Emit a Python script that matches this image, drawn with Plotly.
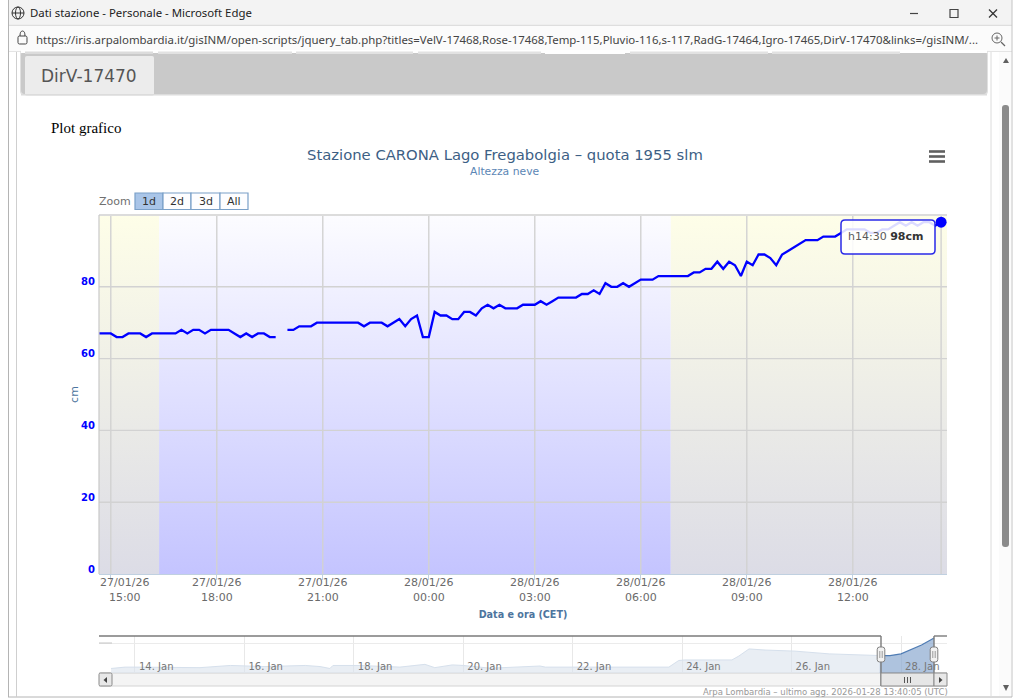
import plotly.graph_objects as go
import pandas as pd

W, H = 1024, 698

# ---------- data ----------
snow_start = "2026-01-27 14:40"
snow_cm = [
    67, 67, 67, 66, 66, 67, 67, 67, 66, 67, 67, 67, 67, 67, 68, 67, 68, 68, 67, 68,
    68, 68, 68, 67, 66, 67, 66, 67, 67, 66, 66, None, 68, 68, 69, 69, 69, 70, 70, 70,
    70, 70, 70, 70, 70, 69, 70, 70, 70, 69, 70, 71, 69, 71, 72, 66, 66, 73, 72, 72,
    71, 71, 73, 73, 72, 74, 75, 74, 75, 74, 74, 74, 75, 75, 75, 76, 75, 76, 77, 77,
    77, 77, 78, 78, 79, 78, 81, 80, 80, 81, 80, 81, 82, 82, 82, 83, 83, 83, 83, 83,
    83, 84, 84, 85, 85, 87, 85, 87, 86, 83, 87, 86, 89, 89, 88, 86, 89, 90, 91, 92,
    93, 93, 93, 94, 94, 94, 95, 96, 96, 96, 96, 95, 95, 96, 96, 97, 98, 97, 98, 97,
    98, 98, 97, 98,
]
y_ticks = [0, 20, 40, 60, 80]
x_tick_times = ["2026-01-27 15:00", "2026-01-27 18:00", "2026-01-27 21:00", "2026-01-28 00:00",
                "2026-01-28 03:00", "2026-01-28 06:00", "2026-01-28 09:00", "2026-01-28 12:00"]
x_tick_dates = ["27/01/26", "27/01/26", "27/01/26", "28/01/26", "28/01/26", "28/01/26", "28/01/26", "28/01/26"]
x_tick_hours = ["15:00", "18:00", "21:00", "00:00", "03:00", "06:00", "09:00", "12:00"]
view_range = ["2026-01-27 14:40", "2026-01-28 14:40"]
crosshair_time = "2026-01-28 14:30"
day_night = ["2026-01-27 14:40", "2026-01-27 16:22", "2026-01-28 06:51", "2026-01-28 14:40"]

nav_times = ["2026-01-13 13:30", "2026-01-13 19:40", "2026-01-14 00:00", "2026-01-14 13:10", "2026-01-15 04:30",
             "2026-01-15 17:50", "2026-01-16 09:00", "2026-01-17 02:40", "2026-01-17 09:10", "2026-01-17 13:30",
             "2026-01-17 14:50", "2026-01-18 02:40", "2026-01-18 20:10", "2026-01-19 07:10", "2026-01-19 11:30",
             "2026-01-19 19:10", "2026-01-20 00:00", "2026-01-20 11:50", "2026-01-21 03:10", "2026-01-21 09:40",
             "2026-01-21 12:00", "2026-01-22 00:00", "2026-01-22 12:00", "2026-01-23 05:30", "2026-01-23 18:10",
             "2026-01-23 22:30", "2026-01-24 01:10", "2026-01-24 13:10", "2026-01-24 21:50", "2026-01-25 00:50",
             "2026-01-25 05:20", "2026-01-25 12:20", "2026-01-26 01:30", "2026-01-26 16:30", "2026-01-27 07:00",
             "2026-01-27 14:40", "2026-01-27 19:10", "2026-01-28 00:00", "2026-01-28 04:50", "2026-01-28 09:00",
             "2026-01-28 14:30"]
nav_cm = [42.5, 45, 45, 44, 44, 48, 46, 48, 46, 42.5, 48, 48, 45, 50, 44, 49, 48, 43, 46, 47,
          45, 45, 45, 44, 45, 57, 58, 58, 58, 65, 78, 76, 74, 69, 67, 66, 66, 69, 78, 85, 98]
nav_range = ["2026-01-13 08:13", "2026-01-28 20:10"]
nav_y_range = [34.3, 101.5]
selection_start = "2026-01-27 14:40"

title_text = "Stazione CARONA Lago Fregabolgia – quota 1955 slm"
subtitle_text = "Altezza neve"
zoom_labels = ["1d", "2d", "3d", "All"]
url_text = ("https://iris.arpalombardia.it/gisINM/open-scripts/jquery_tab.php?titles=VelV-17468,Rose-17468,"
            "Temp-115,Pluvio-116,s-117,RadG-17464,Igro-17465,DirV-17470&links=/gisINM/...")

# ---------- styles ----------
UI = "DejaVu Sans"
WIN = "Noto Sans"
GRID = "#d2d2d2"
BLUE = "#0000ff"

times = pd.date_range(snow_start, periods=len(snow_cm), freq="10min")


def px(x):
    return x / W


def py(y):
    return 1 - y / H


shapes, annos = [], []


def rect(x0, y0, x1, y1, fill="rgba(0,0,0,0)", line=None, lw=1, layer="below"):
    shapes.append(dict(type="rect", xref="paper", yref="paper", x0=px(x0), x1=px(x1), y0=py(y0), y1=py(y1),
                       fillcolor=fill, line=dict(color=line or "rgba(0,0,0,0)", width=lw if line else 0), layer=layer))


def seg(x0, y0, x1, y1, color, lw=1, layer="below"):
    shapes.append(dict(type="line", xref="paper", yref="paper", x0=px(x0), x1=px(x1), y0=py(y0), y1=py(y1),
                       line=dict(color=color, width=lw), layer=layer))


def path(d, fill="rgba(0,0,0,0)", line=None, lw=1, layer="below"):
    shapes.append(dict(type="path", xref="paper", yref="paper", path=d, fillcolor=fill,
                       line=dict(color=line or "rgba(0,0,0,0)", width=lw if line else 0), layer=layer))


def rrect(x0, y0, x1, y1, r, **kw):
    def p(x, y):
        return f"{px(x):.6f},{py(y):.6f}"
    d = (f"M{p(x0 + r, y0)} L{p(x1 - r, y0)} Q{p(x1, y0)} {p(x1, y0 + r)} L{p(x1, y1 - r)} Q{p(x1, y1)} {p(x1 - r, y1)} "
         f"L{p(x0 + r, y1)} Q{p(x0, y1)} {p(x0, y1 - r)} L{p(x0, y0 + r)} Q{p(x0, y0)} {p(x0 + r, y0)} Z")
    path(d, **kw)


def tri(pts, fill):
    d = "M" + " L".join(f"{px(x):.6f},{py(y):.6f}" for x, y in pts) + " Z"
    path(d, fill=fill, layer="above")


def text(x, y, s, size=11, color="#333", family=UI, anchor="center", weight=None):
    f = dict(size=size, color=color, family=family)
    if weight:
        f["weight"] = weight
    annos.append(dict(xref="paper", yref="paper", x=px(x), y=py(y), text=s, showarrow=False, font=f,
                      xanchor=anchor, yanchor="middle", align=anchor, borderpad=0))


# ---------- browser window chrome ----------
rect(8, 0, 1012, 25, fill="#f3f3f3")
seg(8, 25.5, 1012, 25.5, "#dedede", 1.5)
rect(8, 26, 1012, 51, fill="#fbfbfb")
seg(8, 51.5, 1012, 51.5, "#e4e4e4", 1)
seg(8.5, 0, 8.5, 697, "#b4b4b4", 1)
seg(1012, 0, 1012, 697, "#c4c4c4", 1)
seg(8, 697, 1012, 697, "#b4b4b4", 1)
seg(16.5, 52, 16.5, 697, "#cfcfcf", 1)
seg(991, 52, 991, 697, "#dcdcdc", 1)
rect(999, 52, 1011, 696, fill="#fbfbfb")

# title bar
shapes.append(dict(type="circle", xref="paper", yref="paper", x0=px(12), x1=px(24), y0=py(19), y1=py(7),
                   line=dict(color="#333", width=1), layer="above"))
shapes.append(dict(type="circle", xref="paper", yref="paper", x0=px(15.5), x1=px(20.5), y0=py(19), y1=py(7),
                   line=dict(color="#333", width=1), layer="above"))
seg(12, 13, 24, 13, "#333", 1, "above")
text(29, 13, "Dati stazione - Personale - Microsoft Edge", 11.4, "#222", WIN, "left")
seg(910, 13.5, 918, 13.5, "#444", 1.2, "above")
rect(950, 9.5, 958, 17.5, line="#444", lw=1.2, layer="above")
seg(989, 9.5, 997, 17.5, "#333", 1.2, "above")
seg(997, 9.5, 989, 17.5, "#333", 1.2, "above")

# address bar
rrect(18, 36, 27, 44, 1.5, line="#444", lw=1, layer="above")
path(f"M{px(20):.6f},{py(36):.6f} Q{px(20):.6f},{py(31):.6f} {px(22.5):.6f},{py(31):.6f} "
     f"Q{px(25):.6f},{py(31):.6f} {px(25):.6f},{py(36):.6f}", line="#444", lw=1, layer="above")
text(35, 39, url_text, 11.43, "#444", WIN, "left")
shapes.append(dict(type="circle", xref="paper", yref="paper", x0=px(992), x1=px(1002), y0=py(43), y1=py(33),
                   line=dict(color="#666", width=1), layer="above"))
seg(1001, 42, 1005, 46, "#666", 1.2, "above")
seg(994.5, 38, 999.5, 38, "#666", 1, "above")
seg(997, 35.5, 997, 40.5, "#666", 1, "above")

# page scrollbar
tri([(1003, 63), (1009, 63), (1006, 58)], "#606060")
tri([(1003, 685), (1009, 685), (1006, 691)], "#606060")
rrect(1002, 105, 1009, 547, 3, fill="#8b8b8b")

# tab strip
rrect(20, 50, 988, 95, 4, fill="#e0e0e0")
rrect(21, 51, 987, 94, 4, fill="#c9c9c9")
rect(21, 50, 987, 53, fill="#ffffff")
for x0, x1, c in [(25, 153, "#dcdcdc"), (158, 292, "#e2e2e2"), (296, 413, "#e2e2e2"), (418, 541, "#e2e2e2"),
                  (545, 625, "#ffffff"), (630, 768, "#e2e2e2"), (772, 900, "#e2e2e2")]:
    rect(x0, 51.5, x1, 54, fill=c)
rrect(25, 56, 154, 96, 2, fill="#ececec")
rect(21, 94, 987, 95.5, fill="#dcdcdc")
text(89, 76, "DirV-17470", 17, "#555", UI)
text(49.5, 128, "Plot grafico", 15, "#000", "Liberation Serif", "left")

# ---------- chart furniture ----------
text(504.5, 154.5, title_text, 14.8, "#3d5f85", UI)
text(504.5, 171, subtitle_text, 10.8, "#5b86b5", UI)

# export menu icon
for yy in (151.5, 156.5, 161.5):
    seg(929, yy, 945, yy, "#606060", 2.6, "above")

# range selector
text(98, 202, "Zoom", 11, "#707070", UI, "left")
btn_edges = [135, 163, 191, 220, 248]
for i, lab in enumerate(zoom_labels):
    rect(btn_edges[i], 193, btn_edges[i + 1], 209.5, fill="#a9c5e8" if i == 0 else "#fdfdff", line="#7aa0c8", lw=1.2)
    text((btn_edges[i] + btn_edges[i + 1]) / 2, 201, lab, 11, "#333", UI, weight=500)

# plot frame
seg(99, 215, 947, 215, "#dcdcdc", 2, "above")
seg(99, 215, 99, 574, "#c8c8c8", 1.2, "above")

# tooltip
rrect(841, 220, 935, 254, 4, fill="rgba(255,255,255,0.86)", line="#2a2ae8", lw=1.5, layer="above")
text(885.5, 236, "<span style='color:#5a5a5a'>h14:30 </span><b>98cm</b>", 11, "#333", UI)

# navigator decoration
NAV_L, NAV_R, NAV_T, NAV_B, SEL_L, SEL_R = 99, 947, 636, 673, 881, 934
nav_edge = "#7a7a7a"
seg(NAV_L, NAV_T, SEL_L, NAV_T, nav_edge, 1.4, "above")
seg(SEL_L, NAV_T, SEL_L, NAV_B + 13, nav_edge, 1.4, "above")
seg(SEL_R, NAV_T, SEL_R, NAV_B + 13, nav_edge, 1.4, "above")
seg(SEL_R, NAV_T, NAV_R, NAV_T, nav_edge, 1.4, "above")
seg(99, 643, 112, 643, "#c4c4c4", 1, "above")
for x in (SEL_L, SEL_R):
    rrect(x - 3.8, 647, x + 3.8, 662, 2.5, fill="#f2f2f2", line="#808080", lw=1, layer="above")
    seg(x - 1.2, 651, x - 1.2, 658, "#9a9a9a", 1, "above")
    seg(x + 1.2, 651, x + 1.2, 658, "#9a9a9a", 1, "above")

# navigator scrollbar
rect(NAV_L, NAV_B, NAV_R, NAV_B + 13, fill="#f4f4f4")
seg(NAV_L, NAV_B, NAV_R, NAV_B, "#d0d0d0", 1)
seg(NAV_L, NAV_B + 13, NAV_R, NAV_B + 13, "#d4d4d4", 1)
rrect(99, NAV_B, 112, NAV_B + 13, 1.5, fill="#e8e8e8", line="#8a8a8a", lw=1, layer="above")
rect(SEL_L, NAV_B, SEL_R, NAV_B + 13, fill="#e6e6e6", line="#8a8a8a", lw=1, layer="above")
rect(SEL_R, NAV_B, NAV_R, NAV_B + 13, fill="#e8e8e8", line="#8a8a8a", lw=1, layer="above")
tri([(107, 677), (107, 683), (103.5, 680)], "#444")
tri([(939, 677), (939, 683), (942.5, 680)], "#444")
for x in (904.5, 907.5, 910.5):
    seg(x, 677, x, 683, "#555", 1, "above")
text(949, 692, "Arpa Lombardia – ultimo agg. 2026-01-28 13:40:05 (UTC)", 8.5, "#999", UI, "right")

# ---------- traces ----------
fig = go.Figure()


def band(x0, x1, bottom, top):
    fig.add_trace(go.Scatter(x=[x0, x0, x1, x1], y=[0, 100, 100, 0], mode="lines", line=dict(width=0),
                             fill="toself", fillgradient=dict(type="vertical", colorscale=[[0, bottom], [1, top]]),
                             hoverinfo="skip", showlegend=False))


yellow_top, yellow_bottom = "#fefee8", "#dcdce6"
blue_top, blue_bottom = "#fcfcff", "#c4c4ff"
band(day_night[0], day_night[1], yellow_bottom, yellow_top)
band(day_night[1], day_night[2], blue_bottom, blue_top)
band(day_night[2], day_night[3], yellow_bottom, yellow_top)

# gridlines above the day/night bands, below the series
gx, gy = [], []
for t in x_tick_times + [crosshair_time]:
    gx += [t, t, None]
    gy += [0, 100, None]
for v in y_ticks[1:]:
    gx += [view_range[0], view_range[1], None]
    gy += [v, v, None]
fig.add_trace(go.Scatter(x=gx, y=gy, mode="lines", line=dict(color=GRID, width=1.4), hoverinfo="skip",
                         showlegend=False))

fig.add_trace(go.Scatter(x=times, y=snow_cm, mode="lines", line=dict(color=BLUE, width=2.3), connectgaps=False,
                         name="Altezza neve", showlegend=False))
fig.add_trace(go.Scatter(x=[times[-1]], y=[snow_cm[-1]], mode="markers", marker=dict(color=BLUE, size=11),
                         showlegend=False, cliponaxis=False))

# navigator series
sel = [i for i, t in enumerate(nav_times) if t >= selection_start]
unsel = [i for i, t in enumerate(nav_times) if t <= selection_start]
fig.add_trace(go.Scatter(x=[nav_times[i] for i in unsel], y=[nav_cm[i] for i in unsel], xaxis="x2", yaxis="y2",
                         mode="lines", line=dict(color="#d6e0ec", width=1), fill="tozeroy",
                         fillcolor="rgba(220,228,238,0.62)", hoverinfo="skip", showlegend=False))
fig.add_trace(go.Scatter(x=[nav_times[i] for i in sel], y=[nav_cm[i] for i in sel], xaxis="x2", yaxis="y2",
                         mode="lines", line=dict(color="#4f7cb4", width=1.2), fill="tozeroy",
                         fillcolor="rgba(140,170,208,0.7)", hoverinfo="skip", showlegend=False))

tick_text = [f"{d}<br>{h}" for d, h in zip(x_tick_dates, x_tick_hours)]
pad = "\u00a0" * 8
tick_text[0] = f"{pad}{x_tick_dates[0]}<br>{pad}{x_tick_hours[0]}"

fig.update_layout(
    width=W, height=H, autosize=False,
    margin=dict(l=0, r=0, t=0, b=0, autoexpand=False),
    paper_bgcolor="#ffffff", plot_bgcolor="rgba(0,0,0,0)",
    showlegend=False,
    hovermode=False,
    shapes=shapes,
    annotations=annos,
    font=dict(family=UI),
    xaxis=dict(
        domain=[px(99), px(947)], range=view_range, type="date", anchor="y", automargin=False,
        tickmode="array", tickvals=x_tick_times, ticktext=tick_text,
        tickfont=dict(size=11, color="#6a6a6a", family=UI),
        ticklabelstandoff=-7,
        showgrid=False, zeroline=False, showline=True, linecolor="#c0d0e0", linewidth=1,
        ticks="outside", ticklen=5, tickcolor="#c0d0e0", tickwidth=1,
        title=dict(text="<b>Data e ora (CET)</b>", font=dict(size=9.6, color="#4d759e", family=UI), standoff=8),
    ),
    yaxis=dict(
        domain=[py(574), py(215)], range=[0, 100], anchor="x", automargin=False,
        tickmode="array", tickvals=y_ticks, ticktext=[str(v) for v in y_ticks],
        tickfont=dict(size=10, color=BLUE, family=UI, weight="bold"),
        ticklabelposition="outside top", ticklabelstandoff=3, ticklabelshift=2,
        showgrid=False, zeroline=False, showline=False, ticks="",
        title=dict(text="cm", font=dict(size=11, color="#4d759e", family=UI), standoff=0),
    ),
    xaxis2=dict(
        domain=[px(NAV_L), px(NAV_R)], range=nav_range, type="date", anchor="y2", automargin=False,
        tick0="2026-01-14", dtick=2 * 86400000, tickformat="%d. %b",
        ticklabelposition="inside right", ticks="", ticklabelstandoff=-5, ticklabelshift=4,
        tickfont=dict(size=10, color="#777777", family=UI),
        showgrid=True, gridcolor="#e8e8e8", gridwidth=1, zeroline=False, showline=False,
    ),
    yaxis2=dict(
        domain=[py(NAV_B), py(NAV_T)], range=nav_y_range, anchor="x2", automargin=False,
        showticklabels=False, ticks="", tickmode="array", tickvals=[88], showgrid=True, gridcolor="#ebebeb",
        zeroline=False, showline=False,
    ),
)

fig.write_html("out.html", config={"displayModeBar": False},
               post_script="document.body.style.margin='0';document.body.style.overflow='hidden';")
